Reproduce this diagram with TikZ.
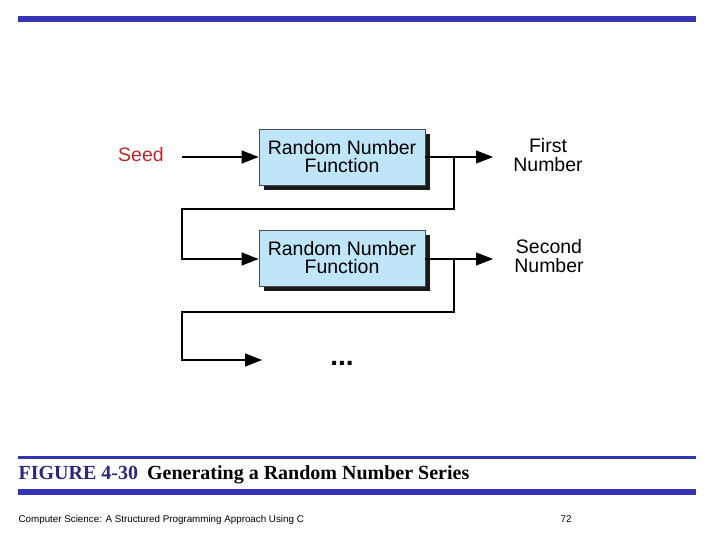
\documentclass[tikz,border=0pt]{standalone}
\usepackage{fontspec}
\setmainfont{Liberation Serif}
\setsansfont{Liberation Sans}
\usepackage{tikz}
\usetikzlibrary{arrows.meta}
\usetikzlibrary{positioning}
\usetikzlibrary{shadows}
\definecolor{barblue}{RGB}{51,51,179}
\definecolor{capblue}{RGB}{40,40,130}
\definecolor{boxblue}{RGB}{190,230,248}
\definecolor{seedred}{RGB}{190,40,45}
\tikzset{arr/.style = {-{Triangle[length=17pt,width=13pt]}},
         fnbox/.style = {draw=black!70, line width=0.8pt, fill=boxblue,
                         minimum width=166pt, minimum height=56pt,
                         align=center, font=\sffamily\fontsize{19.5}{18}\selectfont,
                         drop shadow={shadow xshift=5pt, shadow yshift=-5pt,
                                      fill=black!90, opacity=1}},
         lbl/.style = {align=center, font=\sffamily\fontsize{19.5}{19.5}\selectfont}}

\begin{document}
\begin{tikzpicture}[x=1pt, y=-1pt, line width=1.3pt]
      \useasboundingbox (0, 0) rectangle (720, 540);
      \fill [barblue] (18, 16) rectangle (696, 22);
      \fill [barblue] (18, 456) rectangle (696, 459);
      \fill [barblue] (18, 489) rectangle (696, 495);
      \node [anchor = base west, inner sep = 0,
             font = \bfseries\fontsize{20}{20}\selectfont] (cap) at (18, 479)
            {\textcolor{capblue}{FIGURE 4-30}\hspace{9pt}Generating a Random Number Series};
      \node [anchor = base west, inner sep = 0,
             font = \sffamily\fontsize{9.8}{10}\selectfont] (foot) at (18, 522)
            {Computer Science: A Structured Programming Approach Using C};
      \node [anchor = base, inner sep = 0,
             font = \sffamily\fontsize{9.8}{10}\selectfont] (page) at (566, 522) {72};

      \node [fnbox] (rnfa) at (342, 157) {Random Number\\Function};
      \node [fnbox] (rnfb) at (342, 258) {Random Number\\Function};
      \node [lbl, text = seedred] (seed) at (141, 155) {Seed};
      \node [lbl] (first) at (548, 155) {First\\Number};
      \node [lbl] (second) at (549, 256) {Second\\Number};
      \node [anchor = base, inner sep = 0,
             font = \sffamily\bfseries\fontsize{28}{28}\selectfont] (dots) at (342, 365) {...};

      \coordinate (outa) at (493, 157);
      \coordinate (outb) at (493, 259);
      \coordinate (ina) at (182, 157);
      \coordinate (inc) at (262, 360);

      \draw [arr] (ina) -- (rnfa.west |- ina);
      \draw [arr] (rnfa.east |- outa) -- (outa);
      \draw [arr] (454, 157) -- (454, 209) -- (182, 209) -- (182, 259) -- (rnfb.west |- outb);
      \draw [arr] (rnfb.east |- outb) -- (outb);
      \draw [arr] (454, 259) -- (454, 312) -- (182, 312) -- (182, 360) -- (inc);
    \end{tikzpicture}
\end{document}
